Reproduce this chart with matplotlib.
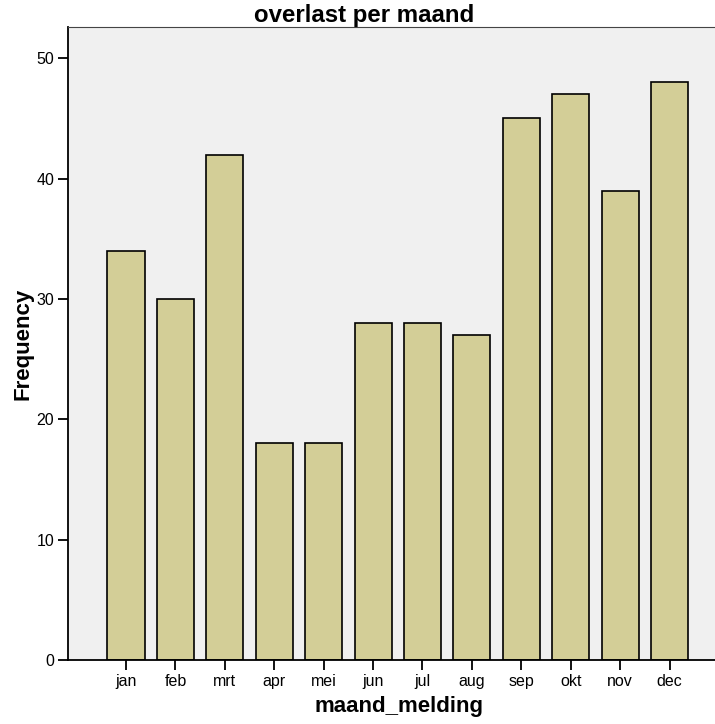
import numpy as np
import matplotlib
matplotlib.use('Agg')
import matplotlib.pyplot as plt

plt.rcParams['font.family'] = ['Liberation Sans', 'DejaVu Sans']

maanden = ['jan', 'feb', 'mrt', 'apr', 'mei', 'jun', 'jul', 'aug', 'sep', 'okt', 'nov', 'dec']
aantallen = [34, 30, 42, 18, 18, 28, 28, 27, 45, 47, 39, 48]
y_ticks = [0, 10, 20, 30, 40, 50]

fig = plt.figure(figsize=(7.15, 7.24), dpi=100)
ax = fig.add_axes([68/715, 64/724, 647/715, 633/724])
ax.set_facecolor('#f0f0f0')

x = np.arange(len(maanden))
ax.bar(x, aantallen, width=0.75, color='#d3ce97', edgecolor='black', linewidth=1.2, zorder=2)

ax.set_xlim(-1.174, 11.92)
ax.set_ylim(0, 52.6)
ax.set_xticks(x)
ax.set_xticklabels(maanden, fontsize=11.5)
ax.set_yticks(y_ticks)
ax.set_yticklabels([str(v) for v in y_ticks], fontsize=11.5)
ax.tick_params(axis='both', direction='out', length=7, width=1.3, color='black', pad=3)

ax.spines['right'].set_visible(False)
ax.spines['top'].set_color('#444444')
ax.spines['left'].set_linewidth(1.3)
ax.spines['bottom'].set_linewidth(1.3)

ax.set_title('overlast per maand', fontsize=17.3, fontweight='bold', pad=-1, x=0.4575)
ax.set_xlabel('maand_melding', fontsize=16, fontweight='bold', labelpad=5, x=0.5116)
ax.set_ylabel('Frequency', fontsize=16, fontweight='bold', labelpad=2)

fig.savefig('out.png', dpi=100)
